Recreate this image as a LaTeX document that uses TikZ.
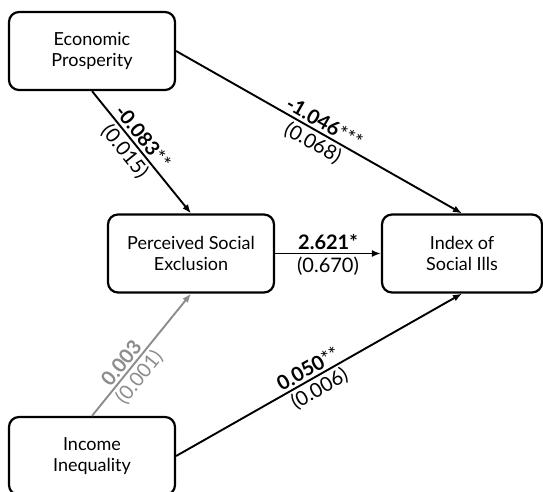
\documentclass[tikz,border=0pt]{standalone}
\usepackage{fontspec}
\setmainfont{Lato}
\usetikzlibrary{arrows.meta}

\begin{document}
\begin{tikzpicture}[x=1pt, y=-1pt, >={Latex[length=9pt,width=7pt]},
  box/.style={draw, line width=2.2pt, rounded corners=10pt, minimum width=166pt, minimum height=78pt, align=center, font=\fontsize{18}{21}\selectfont},
  link/.style={line width=1.9pt},
  coef/.style={sloped, above, inner sep=2.5pt, font=\fontsize{20}{22}\selectfont},
  serr/.style={sloped, below, inner sep=2.5pt, font=\fontsize{20}{22}\selectfont}]
\useasboundingbox (0,0) rectangle (543,491);

\node[box] (econ) at (92,51) {Economic\\Prosperity};
\node[box] (excl) at (191,253.5) {Perceived Social\\Exclusion};
\node[box, minimum width=160pt] (ills) at (462,253.5) {Index of\\Social Ills};
\node[box] (ineq) at (92,456) {Income\\Inequality};

\draw[->, link] (econ.south) -- node[coef, pos=0.43] {\textbf{-0.083}**} node[serr, pos=0.43] {(0.015)} (excl.north);
\draw[->, link] (econ.east) -- node[coef, pos=0.5] {\textbf{-1.046}***} node[serr, pos=0.5] {(0.068)} (ills.north);
\draw[->, link] (excl.east) -- node[coef] {\textbf{2.621*}} node[serr] {(0.670)} (ills.west);
\draw[->, link, black!45] (ineq.north) -- node[coef, pos=0.38] {\textbf{0.003}} node[serr, pos=0.38] {(0.001)} (excl.south);
\draw[->, link] (ineq.east) -- node[coef, pos=0.48] {\textbf{0.050}**} node[serr, pos=0.48] {(0.006)} (ills.south);
\end{tikzpicture}
\end{document}
